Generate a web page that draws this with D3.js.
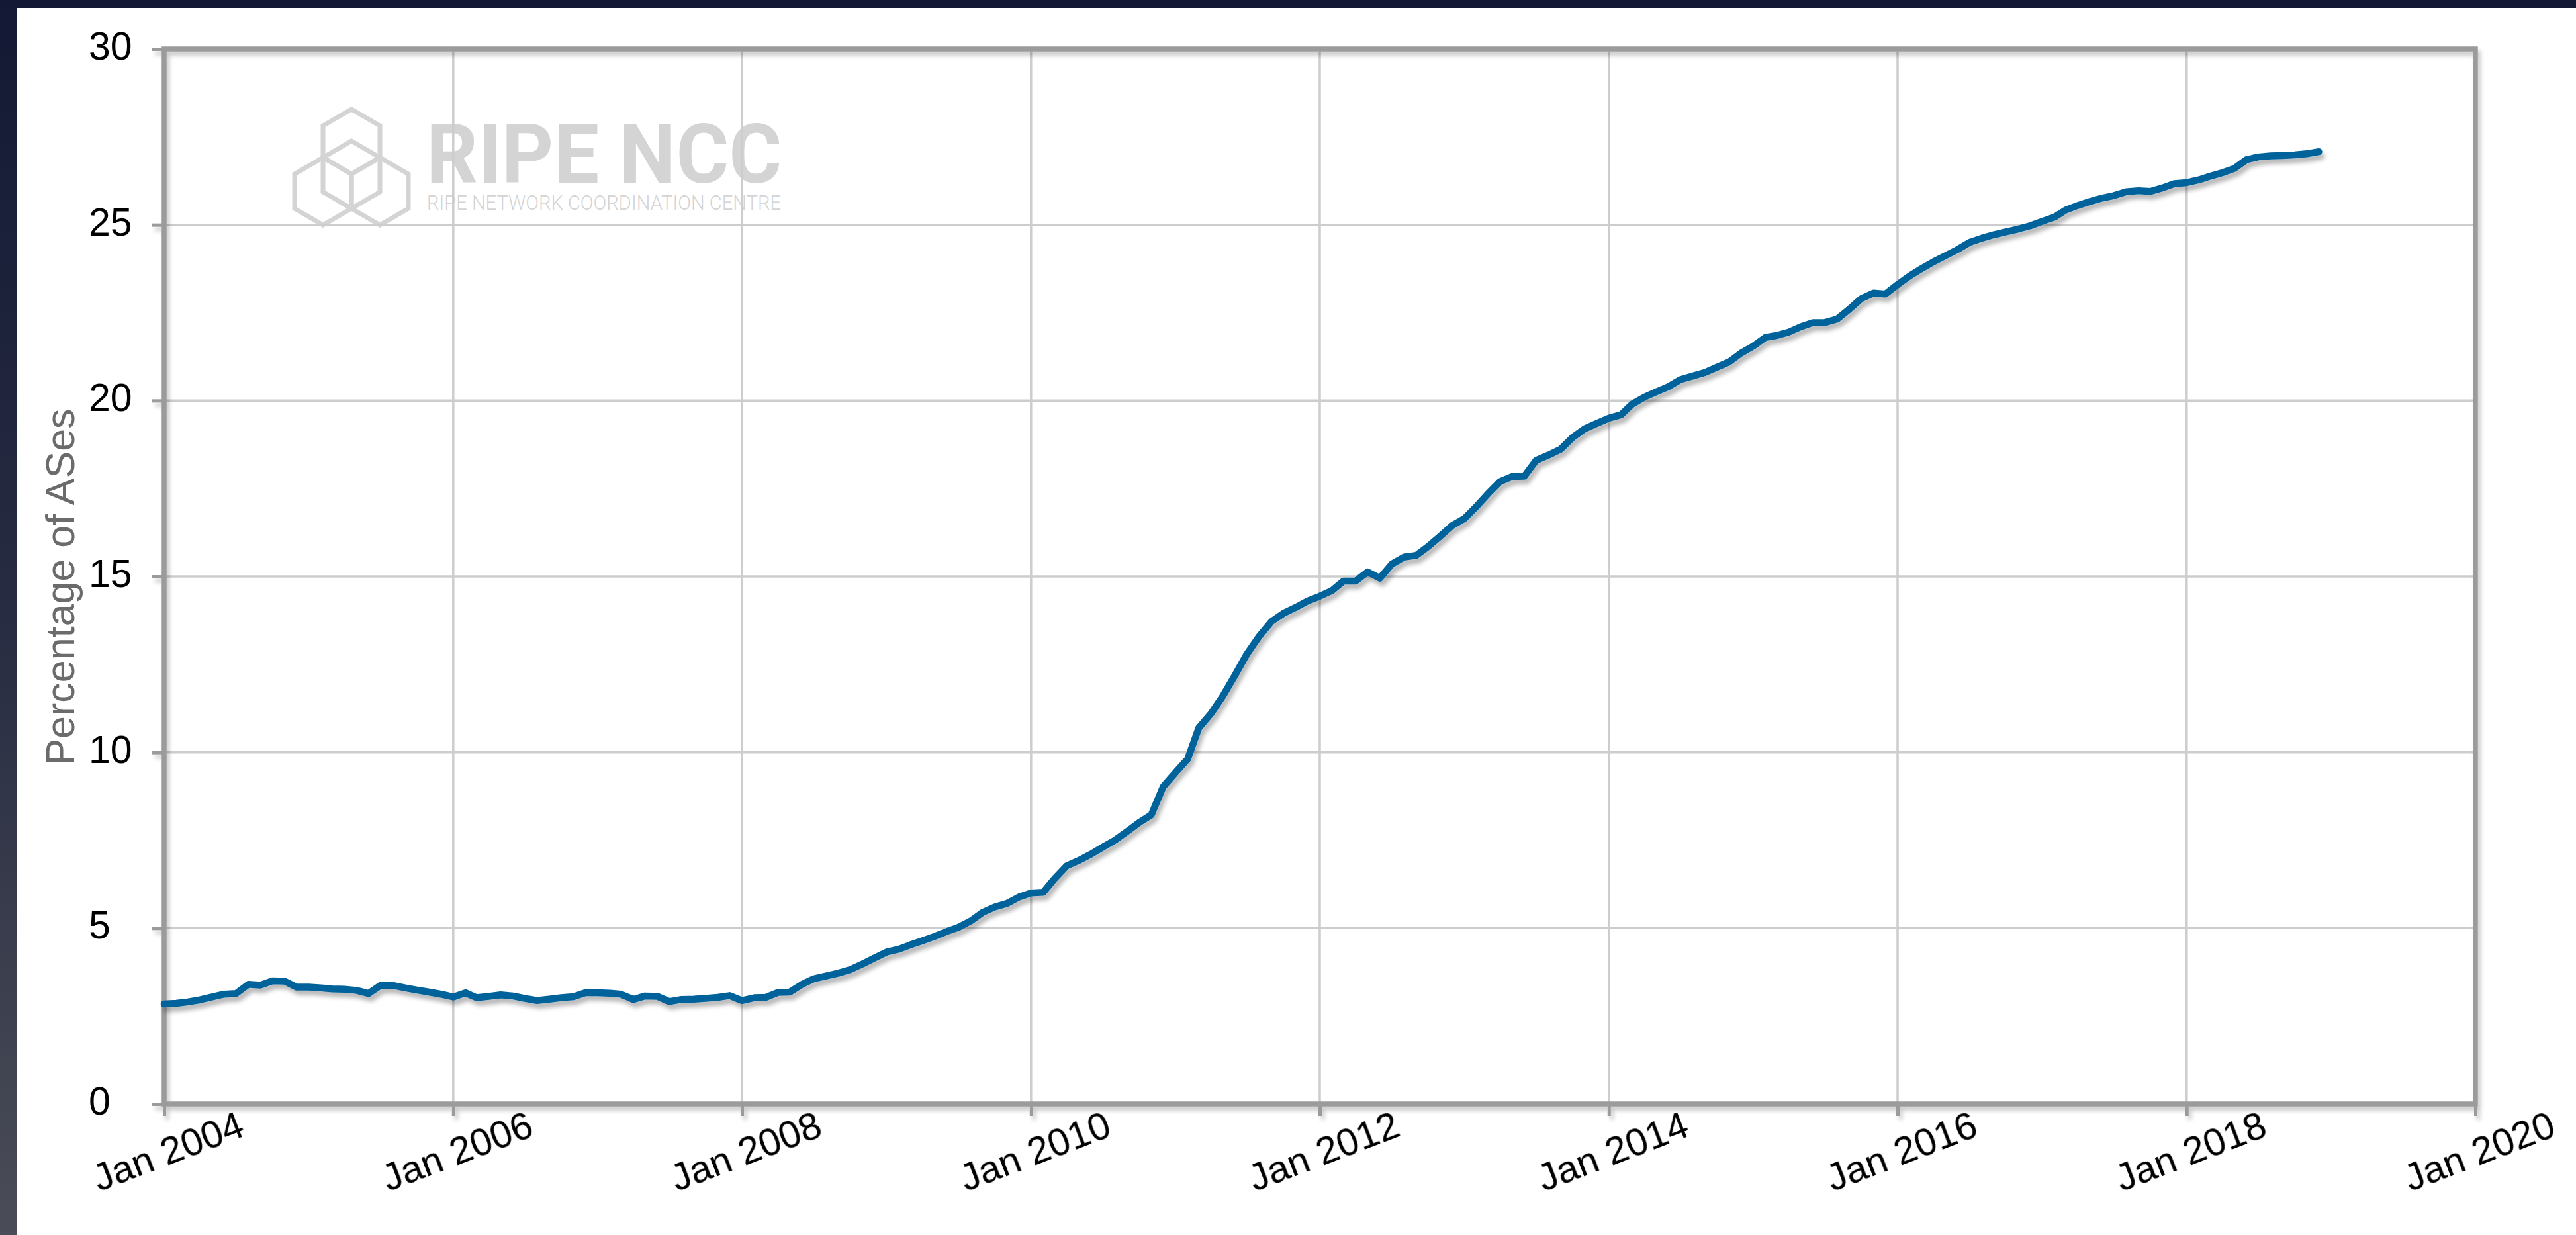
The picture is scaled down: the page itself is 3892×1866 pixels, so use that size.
<!DOCTYPE html>
<html>
<head>
<meta charset="utf-8">
<script src="https://cdn.jsdelivr.net/npm/d3@7"></script>
<style>
  html, body { margin: 0; padding: 0; background: #ffffff; }
  svg { display: block; }
</style>
</head>
<body>
<svg id="chart" width="3892" height="1866"></svg>
<script>
// ---------------- DATA ----------------
const startYear = 2004;               // first monthly sample: Jan 2004
const percentASes = [
  // 2004
  2.84, 2.86, 2.90, 2.96, 3.04, 3.12, 3.14, 3.40, 3.38, 3.50, 3.49, 3.32,
  // 2005
  3.32, 3.30, 3.27, 3.26, 3.23, 3.14, 3.37, 3.37, 3.30, 3.24, 3.18, 3.12,
  // 2006
  3.04, 3.16, 3.02, 3.06, 3.10, 3.07, 3.00, 2.94, 2.98, 3.02, 3.05, 3.16,
  // 2007
  3.16, 3.15, 3.12, 2.97, 3.07, 3.06, 2.91, 2.97, 2.98, 3.00, 3.03, 3.08,
  // 2008
  2.94, 3.02, 3.03, 3.17, 3.18, 3.40, 3.56, 3.64, 3.72, 3.82, 3.98, 4.15,
  // 2009
  4.32, 4.40, 4.52, 4.64, 4.76, 4.90, 5.02, 5.20, 5.45, 5.60, 5.70, 5.88,
  // 2010
  6.00, 6.02, 6.40, 6.77, 6.92, 7.10, 7.30, 7.50, 7.75, 8.00, 8.22, 9.02,
  // 2011
  9.42, 9.81, 10.69, 11.10, 11.60, 12.20, 12.80, 13.30, 13.72, 13.95, 14.12, 14.30,
  // 2012
  14.44, 14.60, 14.87, 14.87, 15.13, 14.95, 15.35, 15.55, 15.60, 15.85, 16.15, 16.45,
  // 2013
  16.65, 17.00, 17.35, 17.70, 17.84, 17.85, 18.30, 18.45, 18.62, 18.95, 19.20, 19.35,
  // 2014
  19.50, 19.60, 19.90, 20.10, 20.25, 20.40, 20.60, 20.70, 20.80, 20.95, 21.10, 21.35,
  // 2015
  21.55, 21.80, 21.85, 21.95, 22.10, 22.22, 22.22, 22.32, 22.60, 22.90, 23.06, 23.03,
  // 2016
  23.30, 23.55, 23.75, 23.95, 24.12, 24.30, 24.50, 24.62, 24.72, 24.80, 24.88, 24.97,
  // 2017
  25.10, 25.22, 25.42, 25.55, 25.66, 25.76, 25.83, 25.94, 25.97, 25.95, 26.05, 26.17,
  // 2018
  26.20, 26.28, 26.38, 26.48, 26.60, 26.85, 26.93, 26.96, 26.97, 26.99, 27.02, 27.08
];
const xTickYears  = [2004, 2006, 2008, 2010, 2012, 2014, 2016, 2018, 2020];
const xTickLabels = ["Jan 2004", "Jan 2006", "Jan 2008", "Jan 2010", "Jan 2012",
                     "Jan 2014", "Jan 2016", "Jan 2018", "Jan 2020"];
const yTicks      = [0, 5, 10, 15, 20, 25, 30];
const yTitle      = "Percentage of ASes";
const logoTitle   = "RIPE NCC";
const logoSub     = "RIPE NETWORK COORDINATION CENTRE";

// ---------------- LAYOUT ----------------
const W = 3892, H = 1866;
const P = { left: 248, right: 3740, top: 74, bottom: 1668 };
const FONT = "'Liberation Sans', Arial, Helvetica, sans-serif";

const svg = d3.select("#chart");
const defs = svg.append("defs");

// left strip gradient
const lg = defs.append("linearGradient").attr("id", "leftStrip")
  .attr("x1", 0).attr("y1", 0).attr("x2", 0).attr("y2", 1);
lg.append("stop").attr("offset", "0%").attr("stop-color", "#131934");
lg.append("stop").attr("offset", "50%").attr("stop-color", "#272c42");
lg.append("stop").attr("offset", "100%").attr("stop-color", "#4a4d57");

function shadowFilter(id, dx, dy, sd, op) {
  const f = defs.append("filter").attr("id", id)
    .attr("filterUnits", "userSpaceOnUse")
    .attr("x", 0).attr("y", 0).attr("width", W).attr("height", H);
  f.append("feGaussianBlur").attr("in", "SourceAlpha").attr("stdDeviation", sd).attr("result", "b");
  f.append("feOffset").attr("in", "b").attr("dx", dx).attr("dy", dy).attr("result", "o");
  f.append("feFlood").attr("flood-color", "#000").attr("flood-opacity", op).attr("result", "c");
  f.append("feComposite").attr("in", "c").attr("in2", "o").attr("operator", "in").attr("result", "s");
  const m = f.append("feMerge");
  m.append("feMergeNode").attr("in", "s");
  m.append("feMergeNode").attr("in", "SourceGraphic");
}
shadowFilter("lineShadow", 4, 7, 3, 0.28);
shadowFilter("axisShadow", 4, 6, 3, 0.22);

// background
svg.append("rect").attr("x", 0).attr("y", 0).attr("width", W).attr("height", H).attr("fill", "#ffffff");
svg.append("rect").attr("x", 0).attr("y", 0).attr("width", 25).attr("height", H).attr("fill", "url(#leftStrip)");
svg.append("rect").attr("x", 0).attr("y", 0).attr("width", W).attr("height", 12).attr("fill", "#131934");

// scales
const dates = percentASes.map((v, i) => d3.timeMonth.offset(new Date(startYear, 0, 1), i));
const data = percentASes.map((v, i) => ({ date: dates[i], value: v }));
const xTickDates = xTickYears.map(y => new Date(y, 0, 1));

const x = d3.scaleTime()
  .domain([xTickDates[0], xTickDates[xTickDates.length - 1]])
  .range([P.left, P.right]);
const y = d3.scaleLinear().domain([0, 30]).range([P.bottom, P.top]);

// ---------------- LOGO (watermark) ----------------
const logo = svg.append("g").attr("class", "logo");
const cx = 531, hw = 43, sl = 25;   // hex half-width and slant rise
const hexPaths = [
  // tall top hexagon
  [[cx, 165], [cx + hw, 165 + sl], [cx + hw, 290], [cx, 290 + sl], [cx - hw, 290], [cx - hw, 165 + sl]],
  // inner rhombus (top face of cube)
  [[cx, 213], [cx + hw, 213 + sl], [cx, 213 + 2 * sl], [cx - hw, 213 + sl]],
  // left hexagon
  [[cx - hw, 238], [cx, 263], [cx, 315], [cx - hw, 340], [cx - 2 * hw, 315], [cx - 2 * hw, 263]],
  // right hexagon
  [[cx + hw, 238], [cx + 2 * hw, 263], [cx + 2 * hw, 315], [cx + hw, 340], [cx, 315], [cx, 263]]
];
logo.selectAll("path").data(hexPaths).join("path")
  .attr("d", d => "M" + d.map(p => p.join(",")).join("L") + "Z")
  .attr("fill", "none").attr("stroke", "#d4d4d4").attr("stroke-width", 7)
  .attr("stroke-linejoin", "miter");
// one text element holding the brand name and its subtitle
const logoText = logo.append("text")
  .attr("font-family", "Roboto, 'Open Sans', sans-serif").attr("fill", "#d4d4d4");
logoText.append("tspan").text(logoTitle)
  .attr("x", 644).attr("y", 276)
  .attr("font-weight", 700).attr("font-size", 124)
  .attr("textLength", 537).attr("lengthAdjust", "spacingAndGlyphs");
logoText.append("tspan").text(logoSub)
  .attr("x", 645).attr("y", 317)
  .attr("font-weight", 300).attr("font-size", 31)
  .attr("textLength", 535).attr("lengthAdjust", "spacingAndGlyphs");

// ---------------- GRID ----------------
const grid = svg.append("g").attr("class", "grid");
grid.selectAll("line.v").data(xTickDates.slice(1, -1)).join("line").attr("class", "v")
  .attr("x1", d => x(d)).attr("x2", d => x(d))
  .attr("y1", P.top).attr("y2", P.bottom)
  .attr("stroke", "#cdcdcd").attr("stroke-width", 3.5);
grid.selectAll("line.h").data(yTicks.slice(1, -1)).join("line").attr("class", "h")
  .attr("x1", P.left).attr("x2", P.right)
  .attr("y1", d => y(d)).attr("y2", d => y(d))
  .attr("stroke", "#cdcdcd").attr("stroke-width", 3.5);

// ---------------- AXES / FRAME ----------------
const frame = svg.append("g").attr("filter", "url(#axisShadow)");
frame.append("rect")
  .attr("x", P.left).attr("y", P.top)
  .attr("width", P.right - P.left).attr("height", P.bottom - P.top)
  .attr("fill", "none").attr("stroke", "#9b9b9b").attr("stroke-width", 7.5);

const yAxis = d3.axisLeft(y).tickValues(yTicks).tickSize(18).tickPadding(0);
const gy = frame.append("g").attr("transform", `translate(${P.left},0)`).call(yAxis);
gy.select(".domain").remove();
gy.selectAll(".tick line").attr("stroke", "#9b9b9b").attr("stroke-width", 5);

const xAxis = d3.axisBottom(x).tickValues(xTickDates).tickSize(18)
  .tickFormat((d, i) => xTickLabels[i]);
const gx = frame.append("g").attr("transform", `translate(0,${P.bottom})`).call(xAxis);
gx.select(".domain").remove();
gx.selectAll(".tick line").attr("stroke", "#9b9b9b").attr("stroke-width", 5);

// tick labels (no shadow) -- move text out of the shadowed group
const labels = svg.append("g");
gy.selectAll(".tick text").each(function (d) {
  labels.append("text").text(this.textContent)
    .attr("x", 134).attr("y", y(d) + 16)
    .attr("text-anchor", "start")
    .attr("font-family", FONT).attr("font-size", 59).attr("fill", "#000");
}).remove();
gx.selectAll(".tick text").each(function (d) {
  labels.append("text").text(this.textContent)
    .attr("transform", `translate(${x(d) + 13},${P.bottom + 90}) rotate(-21)`)
    .attr("text-anchor", "middle")
    .attr("font-family", FONT).attr("font-size", 58).attr("fill", "#000");
}).remove();

// y title
svg.append("text").text(yTitle)
  .attr("transform", `translate(112,${(P.top + P.bottom) / 2 + 16}) rotate(-90)`)
  .attr("text-anchor", "middle")
  .attr("font-family", FONT).attr("font-size", 61).attr("fill", "#6b6b6b");

// ---------------- LINE ----------------
const line = d3.line().x(d => x(d.date)).y(d => y(d.value));
svg.append("path").datum(data)
  .attr("d", line)
  .attr("fill", "none").attr("stroke", "#00629a").attr("stroke-width", 10.5)
  .attr("stroke-linejoin", "round").attr("stroke-linecap", "round")
  .attr("filter", "url(#lineShadow)");
</script>
</body>
</html>
